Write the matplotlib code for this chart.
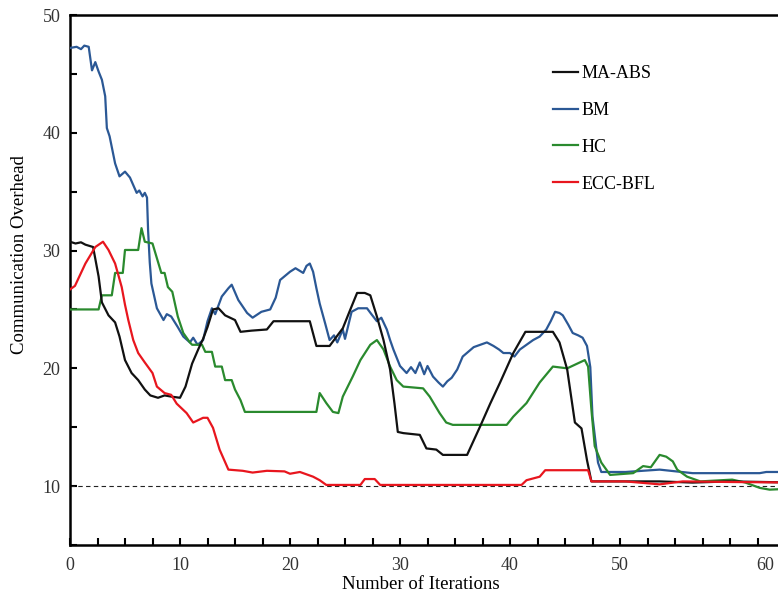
import matplotlib
matplotlib.use("Agg")
import matplotlib.pyplot as plt
from matplotlib.ticker import MultipleLocator
import matplotlib.transforms as mtransforms

plt.rcParams['font.family'] = ['Liberation Serif', 'DejaVu Serif']

# ---------------- data ----------------
bm_x = [0, 0.6, 1.0, 1.3, 1.7, 2.0, 2.3, 2.6, 2.9, 3.2, 3.35, 3.6, 4.1, 4.5, 5.0, 5.45, 6.06, 6.3, 6.6, 6.8,
        7.0, 7.1, 7.25, 7.4, 7.9, 8.5, 8.8, 9.2, 9.8, 10.3, 10.9, 11.2, 11.6, 12.1, 12.5, 12.9, 13.2, 13.8, 14.4,
        14.7, 15.3, 16.1, 16.6, 17.4, 18.2, 18.7, 19.1, 20.0, 20.5, 21.2, 21.5, 21.8, 22.1, 22.4, 22.7, 23.2,
        23.6, 24.0, 24.3, 24.8, 25.0, 25.6, 26.2, 27.0, 27.4, 27.9, 28.3, 28.8, 29.1, 29.4, 30.0, 30.6, 31.0,
        31.4, 31.8, 32.2, 32.5, 33.0, 33.5, 33.9, 34.3, 34.7, 35.2, 35.7, 36.2, 36.7, 37.3, 37.9, 38.5, 39.0,
        39.4, 40.0, 40.4, 40.9, 41.5, 42.1, 42.7, 43.3, 43.7, 44.1, 44.5, 44.8, 45.3, 45.7, 46.2, 46.6, 47.0,
        47.3, 47.5, 48.0, 48.3, 50.5, 53.6, 56.6, 62.7, 63.3, 66]
bm_y = [47.2, 47.3, 47.1, 47.4, 47.3, 45.3, 46.0, 45.2, 44.5, 43.1, 40.4, 39.7, 37.4, 36.3, 36.7, 36.2, 34.9,
        35.1, 34.6, 34.9, 34.5, 31.7, 29.0, 27.2, 25.1, 24.1, 24.6, 24.4, 23.5, 22.7, 22.2, 22.6, 22.0, 22.4,
        24.0, 25.1, 24.6, 26.1, 26.8, 27.1, 25.8, 24.7, 24.3, 24.8, 25.0, 26.0, 27.5, 28.2, 28.5, 28.1, 28.7,
        28.9, 28.2, 26.8, 25.5, 23.8, 22.4, 22.8, 22.2, 23.3, 22.5, 24.8, 25.1, 25.1, 24.6, 24.0, 24.3, 23.3,
        22.4, 21.6, 20.2, 19.6, 20.1, 19.6, 20.5, 19.5, 20.2, 19.3, 18.8, 18.45, 18.9, 19.2, 19.9, 21.0, 21.4,
        21.8, 22.0, 22.2, 21.9, 21.6, 21.3, 21.3, 21.0, 21.6, 22.0, 22.4, 22.7, 23.3, 24.0, 24.8, 24.7, 24.5,
        23.7, 23.0, 22.8, 22.6, 21.9, 20.1, 15.9, 12.0, 11.2, 11.2, 11.4, 11.1, 11.1, 11.2, 11.2]

maabs_x = [0, 0.5, 1.0, 1.4, 2.1, 2.6, 2.9, 3.5, 4.1, 4.5, 5.0, 5.6, 6.2, 6.8, 7.3, 8.0, 8.6, 9.2, 10.0, 10.5,
           11.1, 11.7, 12.1, 12.5, 13.0, 13.5, 14.1, 15.0, 15.5, 16.5, 17.9, 18.5, 21.8, 22.4, 23.6, 24.8, 25.4,
           26.1, 26.8, 27.3, 27.9, 28.5, 29.1, 29.5, 29.8, 30.3, 31.8, 32.4, 33.3, 33.9, 36.1, 37.3, 38.2, 39.1,
           40.3, 41.4, 43.9, 44.5, 45.2, 45.9, 46.5, 47.0, 47.4, 50.5, 53.6, 56.6, 60.0, 66]
maabs_y = [30.75, 30.6, 30.7, 30.5, 30.3, 27.8, 25.6, 24.5, 23.9, 22.7, 20.7, 19.6, 19.0, 18.2, 17.7, 17.5,
           17.7, 17.6, 17.5, 18.45, 20.4, 21.7, 22.5, 23.5, 25.0, 25.1, 24.5, 24.1, 23.1, 23.2, 23.3, 24.0, 24.0,
           21.9, 21.9, 23.4, 24.8, 26.4, 26.4, 26.2, 24.4, 22.4, 19.9, 17.0, 14.6, 14.5, 14.35, 13.2, 13.1, 12.65,
           12.65, 15.1, 17.0, 18.8, 21.3, 23.1, 23.1, 22.2, 19.9, 15.4, 14.9, 12.2, 10.4, 10.4, 10.4, 10.3, 10.4,
           10.3]

hc_x = [0, 2.6, 2.9, 3.8, 4.1, 4.8, 5.0, 6.2, 6.5, 6.8, 7.5, 8.3, 8.6, 8.9, 9.3, 9.8, 10.3, 10.9, 11.1, 12.0,
        12.3, 12.9, 13.2, 13.8, 14.1, 14.7, 15.0, 15.5, 15.9, 22.4, 22.7, 23.3, 23.9, 24.4, 24.8, 25.7, 26.4,
        27.3, 27.9, 28.5, 29.1, 29.7, 30.3, 32.1, 32.7, 33.6, 34.2, 34.8, 39.7, 40.3, 41.5, 42.7, 43.9, 45.2,
        46.8, 47.1, 47.4, 47.7, 48.3, 49.1, 51.2, 52.1, 52.8, 53.6, 54.2, 54.8, 55.2, 56.1, 57.3, 60.2, 61.4,
        62.7, 63.6, 66]
hc_y = [25.0, 25.0, 26.2, 26.2, 28.1, 28.1, 30.05, 30.05, 31.9, 30.75, 30.6, 28.1, 28.1, 26.9, 26.5, 24.4,
        23.0, 22.2, 22.0, 22.0, 21.4, 21.4, 20.15, 20.15, 19.0, 19.0, 18.2, 17.3, 16.3, 16.3, 17.9, 17.05, 16.3,
        16.2, 17.6, 19.3, 20.7, 22.0, 22.4, 21.6, 20.15, 19.0, 18.45, 18.3, 17.6, 16.2, 15.4, 15.2, 15.2, 15.9,
        17.05, 18.8, 20.15, 20.0, 20.7, 20.15, 16.5, 13.4, 12.0, 10.95, 11.1, 11.7, 11.6, 12.65, 12.5, 12.1,
        11.4, 10.8, 10.4, 10.55, 10.3, 9.85, 9.7, 9.8]

ecc_x = [0, 0.45, 1.4, 2.3, 3.0, 3.5, 4.1, 4.7, 5.0, 5.3, 5.75, 6.2, 6.8, 7.5, 7.9, 8.6, 9.2, 9.7, 10.6, 11.2,
         12.1, 12.5, 13.0, 13.6, 14.4, 15.7, 16.6, 17.9, 19.5, 20.0, 20.9, 22.1, 22.7, 23.3, 26.4, 26.8, 27.7,
         28.2, 41.05, 41.5, 42.7, 43.2, 47.1, 47.4, 50.5, 53.6, 55.7, 60.0, 66]
ecc_y = [26.7, 27.0, 28.9, 30.3, 30.75, 30.05, 28.9, 26.9, 25.4, 24.1, 22.4, 21.3, 20.5, 19.6, 18.45, 17.9,
         17.75, 17.0, 16.2, 15.4, 15.8, 15.8, 14.95, 13.1, 11.4, 11.3, 11.15, 11.3, 11.25, 11.05, 11.2, 10.8,
         10.5, 10.1, 10.1, 10.6, 10.6, 10.1, 10.1, 10.5, 10.8, 11.35, 11.35, 10.4, 10.4, 10.15, 10.4, 10.35, 10.3]

baseline = 10
labels = ['MA-ABS', 'BM', 'HC', 'ECC-BFL']
x_ticks = [0, 10, 20, 30, 40, 50]
y_ticks = [10, 20, 30, 40, 50]

# ---------------- figure ----------------
W, H = 778, 598
fig = plt.figure(figsize=(W / 100, H / 100), dpi=100)
ax_left, ax_bottom, ax_top = 70, 545, 15
xmax = 66
px_per_unit = 11.0
ax = fig.add_axes([ax_left / W, 1 - ax_bottom / H, xmax * px_per_unit / W, (ax_bottom - ax_top) / H])

lw = 1.6
ax.plot(maabs_x, maabs_y, color='#111111', lw=lw, label=labels[0], zorder=4)
ax.plot(bm_x, bm_y, color='#2b5895', lw=lw, label=labels[1], zorder=3)
ax.plot(hc_x, hc_y, color='#2a8a2e', lw=lw, label=labels[2], zorder=3)
ax.plot(ecc_x, ecc_y, color='#e8161e', lw=lw, label=labels[3], zorder=5)
ax.axhline(baseline, color='#222222', lw=0.8, ls=(0, (4, 3)), zorder=2)

ax.set_xlim(0, xmax)
ax.set_ylim(5, 50)
ax.set_xticks(x_ticks)
ax.set_yticks(y_ticks)
ax.xaxis.set_minor_locator(MultipleLocator(2.5))
ax.yaxis.set_minor_locator(MultipleLocator(5))
ax.tick_params(which='both', direction='in', length=5, width=1.5, labelsize=13, pad=7)
ax.tick_params(axis='x', pad=9)
for s in ax.spines.values():
    s.set_linewidth(1.8)
for lab in ax.get_xticklabels() + ax.get_yticklabels():
    lab.set_color('#333333')

# "60" label as it appears in the reference
trans = mtransforms.blended_transform_factory(ax.transData, ax.transAxes)
ax.annotate('60', xy=(63.2, 0), xycoords=trans, xytext=(0, -9), textcoords='offset points',
            ha='center', va='top', fontsize=13, color='#333333', annotation_clip=False)

ax.set_xlabel('Number of Iterations', fontsize=13.5)
ax.set_ylabel('Communication Overhead', fontsize=13.5)
axw = xmax * px_per_unit
axh = ax_bottom - ax_top
ax.xaxis.set_label_coords((421 - ax_left) / axw, -(576 - ax_bottom) / axh)
ax.yaxis.set_label_coords(-(ax_left - 28) / axw, (ax_bottom - 255) / axh)

fig.legend(loc='upper left', bbox_to_anchor=(553 / W, 1 - 65 / H), frameon=False, fontsize=13,
           handlelength=1.4, handletextpad=0.2, labelspacing=1.1, borderpad=0, borderaxespad=0)

fig.savefig('out.png', dpi=100)
